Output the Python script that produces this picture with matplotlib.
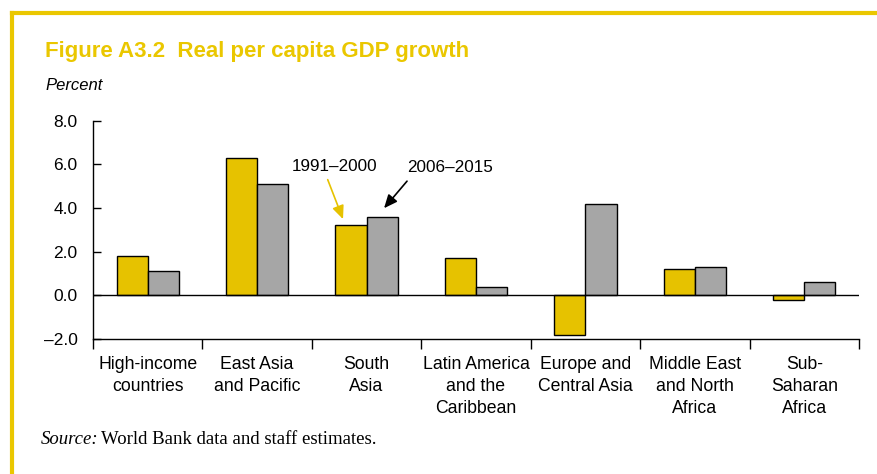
import matplotlib.pyplot as plt
from matplotlib.lines import Line2D
from matplotlib.ticker import FuncFormatter
import numpy as np

plt.rcParams['font.family'] = ['Liberation Sans', 'DejaVu Sans']

regions = ["High-income\ncountries", "East Asia\nand Pacific", "South\nAsia",
           "Latin America\nand the\nCaribbean", "Europe and\nCentral Asia",
           "Middle East\nand North\nAfrica", "Sub-\nSaharan\nAfrica"]
growth_1991_2000 = [1.8, 6.3, 3.2, 1.7, -1.8, 1.2, -0.2]
growth_2006_2015 = [1.1, 5.1, 3.6, 0.4, 4.2, 1.3, 0.6]
period_labels = ["1991\u20132000", "2006\u20132015"]
yticks = [-2, 0, 2, 4, 6, 8]

YELLOW = '#E6C200'
GRAY = '#A6A6A6'
FRAME = '#EAC700'

fig = plt.figure(figsize=(8.78, 4.74), dpi=100)
ax = fig.add_axes([0.1059, 0.2848, 0.8724, 0.4606])

x = np.arange(len(regions))
w = 0.285
ax.bar(x - w / 2, growth_1991_2000, w, color=YELLOW, edgecolor='black', linewidth=1.0, zorder=2)
ax.bar(x + w / 2, growth_2006_2015, w, color=GRAY, edgecolor='black', linewidth=1.0, zorder=2)
ax.axhline(0, color='black', linewidth=1.0, zorder=3)

ax.set_xlim(-0.5, len(regions) - 0.5)
ax.set_ylim(-2, 8)
ax.set_yticks(yticks)
ax.yaxis.set_major_formatter(FuncFormatter(lambda v, p: f"{v:.1f}".replace('-', '\u2013')))
ax.tick_params(axis='y', direction='in', length=6, width=1, labelsize=12.5, pad=11)

ax.set_xticks(x)
ax.set_xticklabels(regions, fontsize=12.7, linespacing=1.38)
ax.set_xticks(np.arange(len(regions) + 1) - 0.5, minor=True)
ax.tick_params(axis='x', which='major', length=0, pad=12.5)
ax.tick_params(axis='x', which='minor', direction='out', length=7, width=1)

for s in ['top', 'right']:
    ax.spines[s].set_visible(False)
for s in ['left', 'bottom']:
    ax.spines[s].set_linewidth(1.0)

# period annotations
ax.text(1.71, 5.9, period_labels[0], ha='center', va='center', fontsize=12.3)
ax.text(2.76, 5.85, period_labels[1], ha='center', va='center', fontsize=12.3)
ax.annotate('', xy=(1.785, 3.49), xytext=(1.645, 5.3),
            arrowprops=dict(arrowstyle='-|>,head_length=0.8,head_width=0.35', color=YELLOW, lw=1.2,
                            shrinkA=0, shrinkB=0))
ax.annotate('', xy=(2.16, 3.99), xytext=(2.37, 5.23),
            arrowprops=dict(arrowstyle='-|>,head_length=0.8,head_width=0.35', color='black', lw=1.2,
                            shrinkA=0, shrinkB=0))

# title, unit, source
fig.text(45 / 878, 1 - 52 / 474, "Figure A3.2  Real per capita GDP growth", fontsize=16,
         fontweight='bold', color=FRAME, ha='left', va='center')
fig.text(45 / 878, 1 - 85 / 474, "Percent", fontsize=12, style='italic', ha='left', va='center')
fig.text(41 / 878, 1 - 439 / 474, "Source:", fontsize=13.5, style='italic',
         family='Liberation Serif', ha='left', va='center')
fig.text(101 / 878, 1 - 439 / 474, "World Bank data and staff estimates.", fontsize=13.5,
         family='Liberation Serif', ha='left', va='center')

# yellow frame
fig.add_artist(Line2D([12.5 / 878, 1], [1 - 13 / 474] * 2, color=FRAME, lw=3, transform=fig.transFigure))
fig.add_artist(Line2D([12.5 / 878] * 2, [0, 1 - 13 / 474], color=FRAME, lw=3, transform=fig.transFigure))

fig.savefig('out.png', dpi=100)
